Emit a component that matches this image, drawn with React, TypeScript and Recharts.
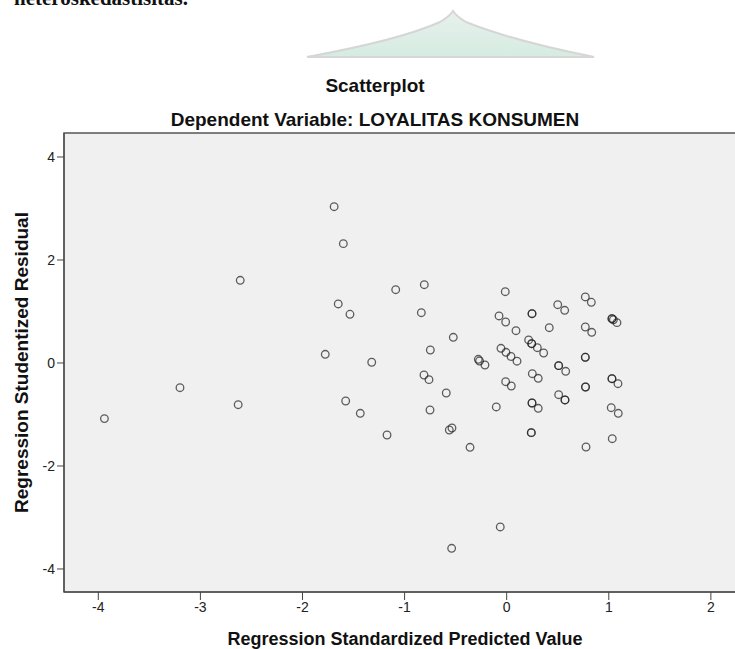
import { ScatterChart, Scatter, XAxis, YAxis, ReferenceArea } from "recharts";

// Regression Standardized Predicted Value (x) vs Studentized Residual (y)
// repeated entries are overlapping cases (drawn darker in the original)
const predicted = [
  -3.94, -3.2, -2.63, -2.61, -1.69, -1.6, -1.65, -1.535, -1.777, -1.577, -1.434, -1.322,
  -1.172, -1.087, -0.807, -0.836, -0.748, -0.81, -0.761, -0.751, -0.523, -0.592, -0.562,
  -0.536, -0.359, -0.539, -0.063, -0.102, -0.014, -0.075, -0.01, 0.091, -0.056, -0.007,
  0.042, 0.101, -0.278, -0.266, -0.213, -0.01, 0.045, 0.248, 0.248, 0.215, 0.245, 0.245,
  0.3, 0.362, 0.251, 0.309, 0.248, 0.248, 0.309, 0.241, 0.241, 0.417, 0.5, 0.568, 0.509,
  0.509, 0.578, 0.509, 0.571, 0.571, 0.77, 0.829, 0.77, 0.833, 0.77, 0.77, 0.772, 0.772,
  0.777, 1.031, 1.031, 1.045, 1.08, 1.031, 1.031, 1.09, 1.024, 1.093, 1.034,
];
const residual = [
  -1.08, -0.48, -0.81, 1.606, 3.035, 2.317, 1.146, 0.946, 0.169, -0.738, -0.977, 0.014,
  -1.398, 1.423, 1.52, 0.977, 0.252, -0.233, -0.324, -0.913, 0.499, -0.583, -1.301,
  -1.262, -1.637, -3.598, -3.184, -0.854, 1.384, 0.913, 0.796, 0.627, 0.285, 0.208,
  0.126, 0.035, 0.072, 0.039, -0.039, -0.363, -0.447, 0.957, 0.957, 0.447, 0.375, 0.375,
  0.297, 0.194, -0.208, -0.297, -0.777, -0.777, -0.88, -1.353, -1.353, 0.685, 1.132, 1.023,
  -0.052, -0.052, -0.161, -0.616, -0.718, -0.718, 1.282, 1.179, 0.699, 0.596, 0.111, 0.111,
  -0.466, -0.466, -1.631, 0.86, 0.86, 0.84, 0.783, -0.305, -0.305, -0.402, -0.868, -0.977,
  -1.47,
];
const xTicks = [-4, -3, -2, -1, 0, 1, 2];
const yTicks = [-4, -2, 0, 2, 4];
const xDomain: [number, number] = [-4.336, 2.344];
const yDomain: [number, number] = [-4.447, 4.466];

const points = predicted.map((x, i) => ({ x, y: residual[i] }));

const font = "'Liberation Sans', Arial, sans-serif";

const Ring = (props: any) => (
  <circle
    cx={props.cx}
    cy={props.cy}
    r={3.8}
    fill="none"
    stroke="#222"
    strokeOpacity={0.72}
    strokeWidth={1.3}
  />
);

export default function App() {
  return (
    <div
      style={{
        position: "absolute",
        left: 0,
        top: 0,
        width: 735,
        height: 649,
        overflow: "hidden",
        background: "#fff",
        fontFamily: font,
      }}
    >
      {/* bit of the page text and logo above the chart */}
      <div
        style={{
          position: "absolute",
          left: 0,
          top: -14,
          width: 188,
          overflow: "hidden",
          whiteSpace: "nowrap",
          display: "flex",
          justifyContent: "flex-end",
          fontFamily: "'Liberation Serif', serif",
          fontSize: 21,
          fontWeight: "bold",
          color: "#111",
        }}
      >
        <span>heteroskedastisitas.</span>
      </div>
      <svg
        width={735}
        height={60}
        style={{ position: "absolute", left: 0, top: 0 }}
      >
        <defs>
          <linearGradient id="logo" x1="0" y1="0" x2="0" y2="1">
            <stop offset="0%" stopColor="#e4efe9" />
            <stop offset="100%" stopColor="#cfe9dc" />
          </linearGradient>
        </defs>
        <path
          d="M307 57 Q400 40 440 22 Q450 16 453 11 Q456 16 466 22 Q510 40 594 57 Z"
          fill="url(#logo)"
          stroke="#cfcfcf"
          strokeWidth={2}
          opacity={0.85}
        />
      </svg>
      <div
        style={{
          position: "absolute",
          left: 175,
          width: 400,
          top: 75,
          textAlign: "center",
          fontSize: 19,
          fontWeight: "bold",
          color: "#111",
        }}
      >
        Scatterplot
      </div>
      <div
        style={{
          position: "absolute",
          left: 75,
          width: 600,
          top: 109,
          textAlign: "center",
          fontSize: 19,
          fontWeight: "bold",
          color: "#111",
        }}
      >
        Dependent Variable: LOYALITAS KONSUMEN
      </div>
      <ScatterChart
        width={750}
        height={649}
        margin={{ top: 133, right: 4, left: 0, bottom: 0 }}
        style={{ position: "absolute", left: 0, top: 0 }}
      >
        <ReferenceArea
          x1={xDomain[0]}
          x2={xDomain[1]}
          y1={yDomain[0]}
          y2={yDomain[1]}
          fill="#f0f0f0"
          fillOpacity={1}
          stroke="#555"
          strokeWidth={1.5}
        />
        <XAxis
          type="number"
          dataKey="x"
          domain={xDomain}
          ticks={xTicks}
          allowDataOverflow
          height={57}
          tickSize={8}
          tickMargin={2}
          stroke="#444"
          tick={{ fill: "#222", fontSize: 14, fontFamily: font }}
          label={{
            value: "Regression Standardized Predicted Value",
            position: "insideBottom",
            offset: 4,
            style: { fontSize: 18, fontWeight: "bold", fill: "#111", fontFamily: font },
          }}
        />
        <YAxis
          type="number"
          dataKey="y"
          domain={yDomain}
          ticks={yTicks}
          allowDataOverflow
          width={64}
          tickSize={7}
          tickMargin={2}
          stroke="#444"
          tick={{ fill: "#222", fontSize: 14, fontFamily: font }}
          label={{
            value: "Regression Studentized Residual",
            angle: -90,
            position: "insideLeft",
            offset: 21,
            style: {
              textAnchor: "middle",
              fontSize: 19,
              fontWeight: "bold",
              fill: "#111",
              fontFamily: font,
            },
          }}
        />
        <Scatter data={points} shape={Ring} isAnimationActive={false} />
      </ScatterChart>
    </div>
  );
}
